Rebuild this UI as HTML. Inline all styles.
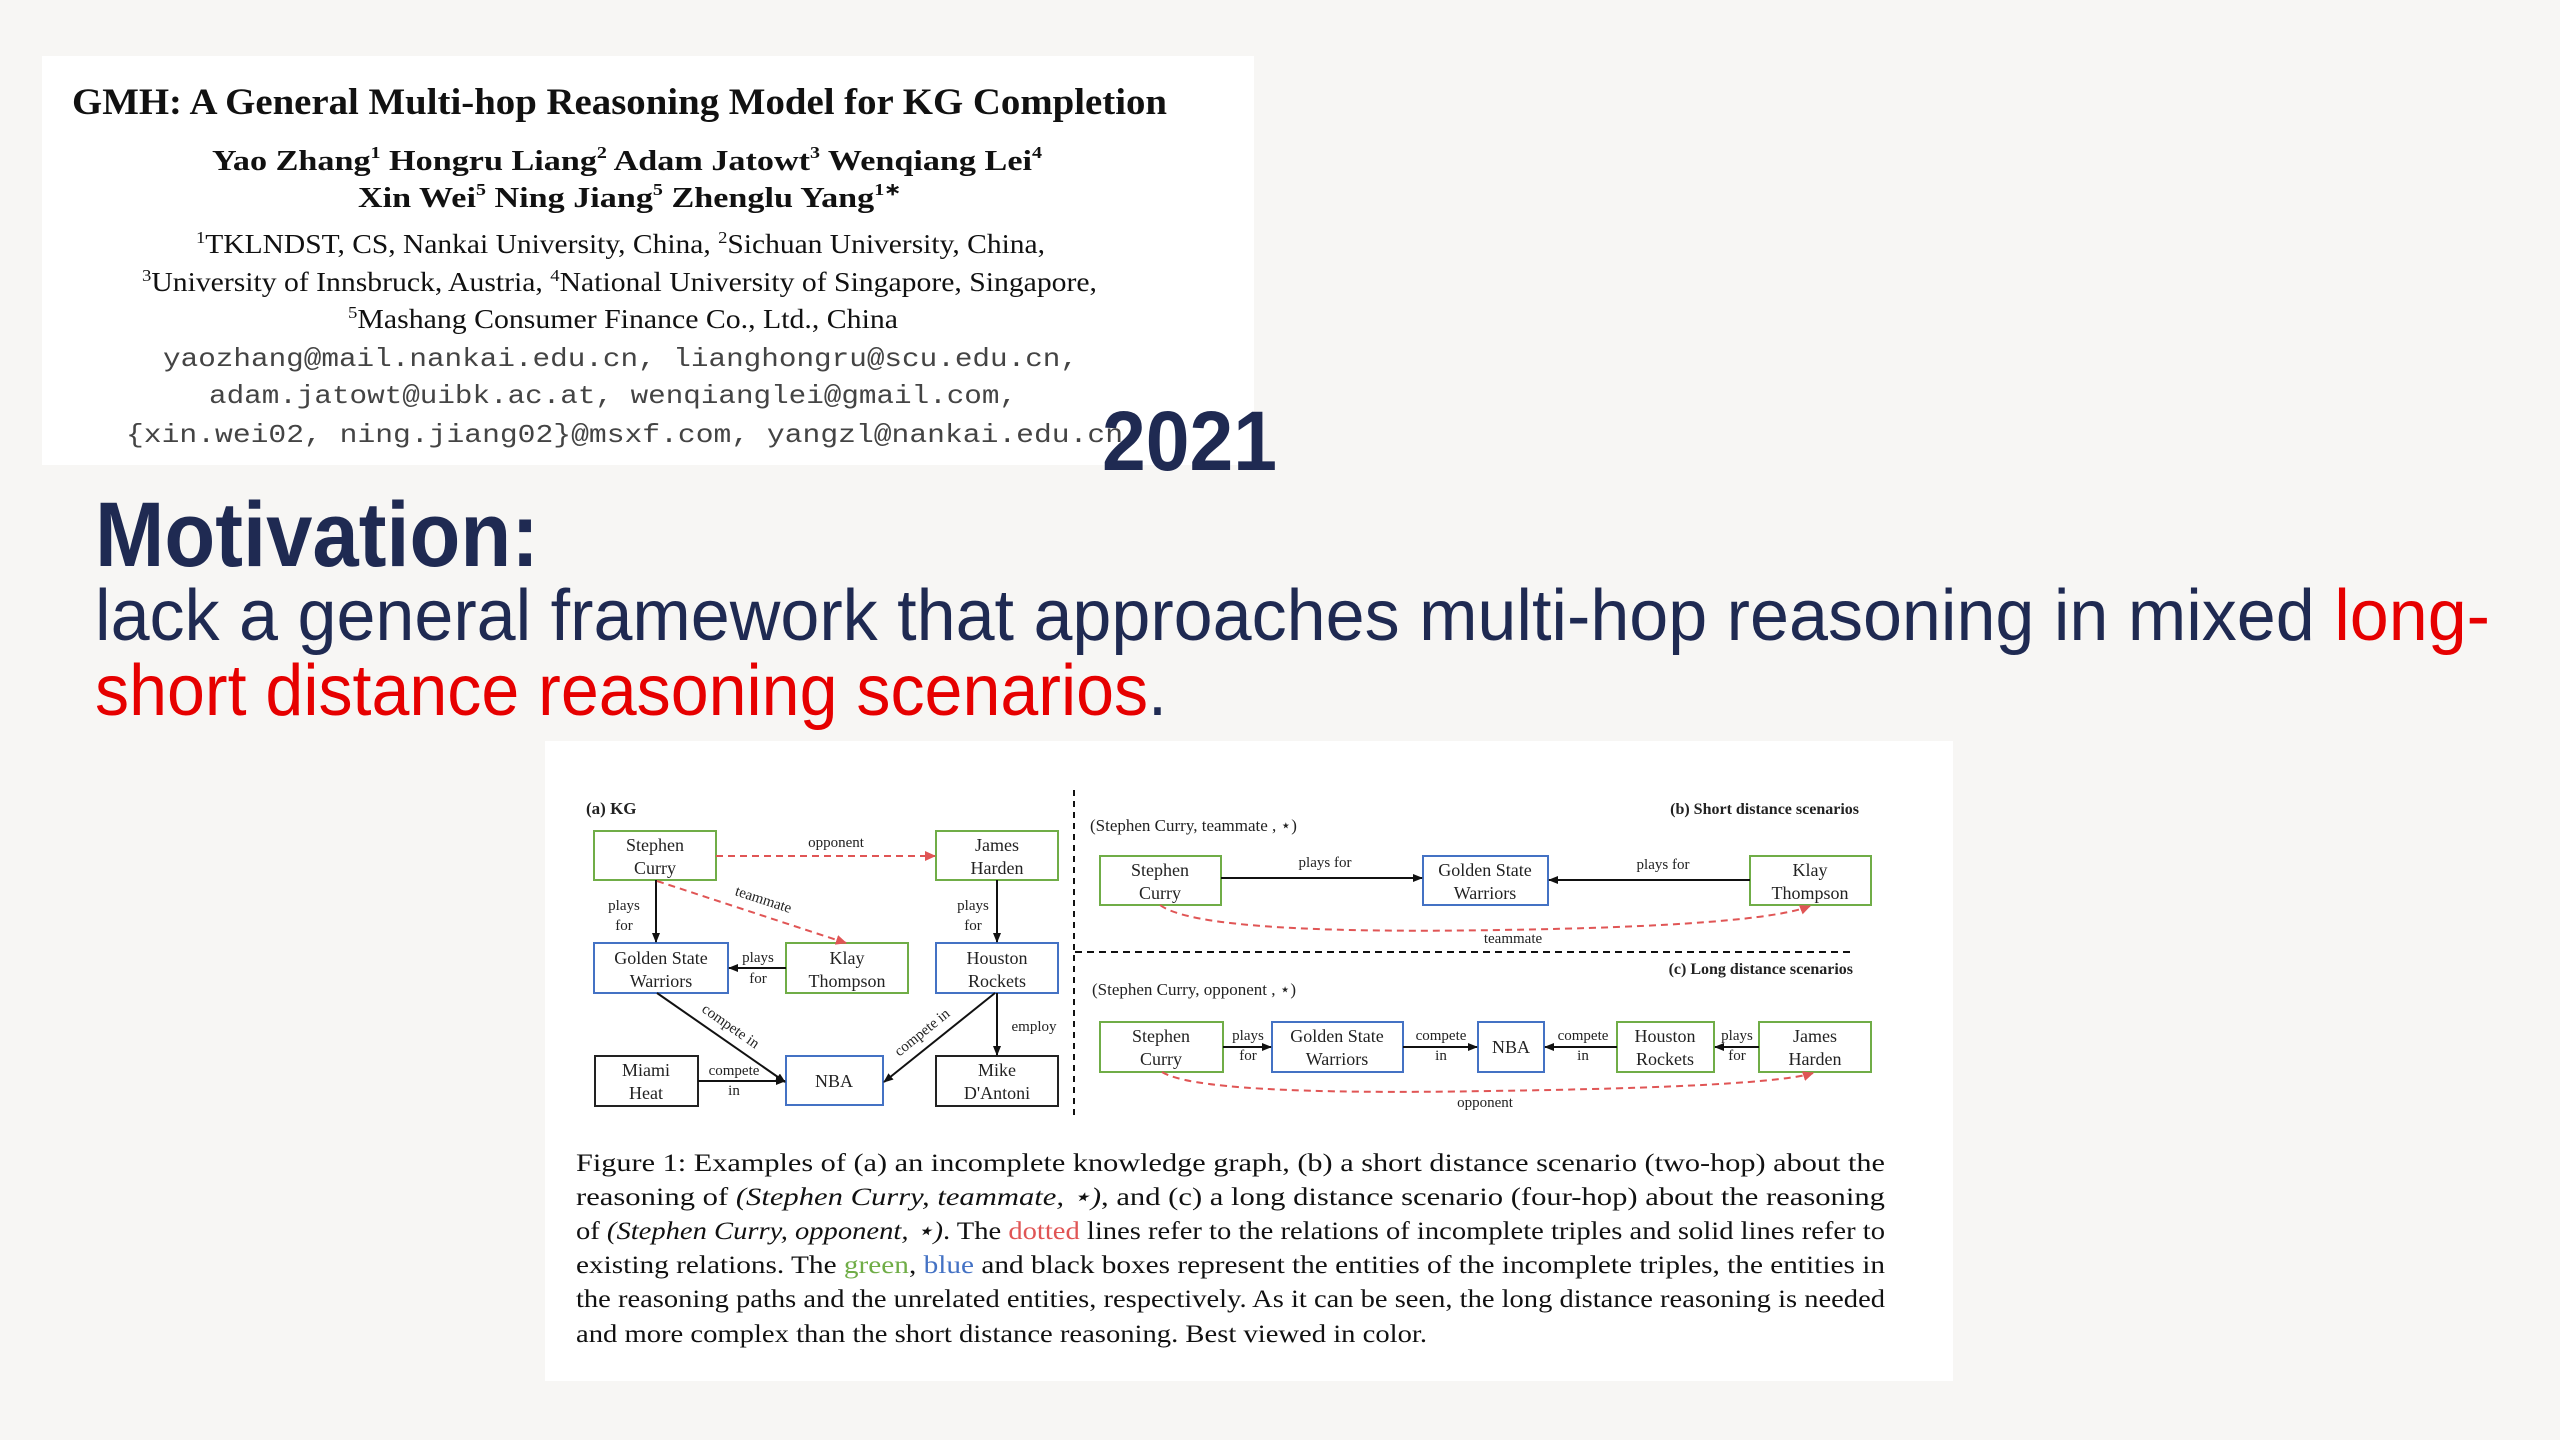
<!DOCTYPE html>
<html><head><meta charset="utf-8"><style>html,body{margin:0;padding:0;background:#f7f6f4}svg{display:block}</style></head>
<body>
<svg width="2560" height="1440" viewBox="0 0 2560 1440" xmlns="http://www.w3.org/2000/svg">
<defs>
<marker id="ab" markerWidth="10" markerHeight="10" refX="9" refY="5" orient="auto" markerUnits="userSpaceOnUse"><path d="M0,1 L10,5 L0,9 Z" fill="#111"/></marker>
<marker id="ar" markerWidth="12" markerHeight="12" refX="10" refY="6" orient="auto" markerUnits="userSpaceOnUse"><path d="M0,1 L11,6 L0,11 Z" fill="#e05555"/></marker>
</defs>
<rect width="2560" height="1440" fill="#f7f6f4"/>
<!-- header box -->
<rect x="42" y="56" width="1212" height="409" fill="#fff"/>
<g font-family="Liberation Serif, serif" fill="#111">
<text x="72" y="114" font-size="37" font-weight="bold" textLength="1095" lengthAdjust="spacingAndGlyphs">GMH: A General Multi-hop Reasoning Model for KG Completion</text>
<text x="212" y="170" font-size="29" font-weight="bold" textLength="830" lengthAdjust="spacingAndGlyphs">Yao Zhang<tspan font-size="17" dy="-12">1</tspan><tspan dy="12">   Hongru Liang</tspan><tspan font-size="17" dy="-12">2</tspan><tspan dy="12">  Adam Jatowt</tspan><tspan font-size="17" dy="-12">3</tspan><tspan dy="12">  Wenqiang Lei</tspan><tspan font-size="17" dy="-12">4</tspan></text>
<text x="358" y="207" font-size="29" font-weight="bold" textLength="543" lengthAdjust="spacingAndGlyphs">Xin Wei<tspan font-size="17" dy="-12">5</tspan><tspan dy="12">   Ning Jiang</tspan><tspan font-size="17" dy="-12">5</tspan><tspan dy="12">  Zhenglu Yang</tspan><tspan font-size="17" dy="-12">1∗</tspan></text>
<text x="196" y="253" font-size="27" textLength="849" lengthAdjust="spacingAndGlyphs"><tspan font-size="17" dy="-10">1</tspan><tspan dy="10">TKLNDST, CS, Nankai University, China, </tspan><tspan font-size="17" dy="-10">2</tspan><tspan dy="10">Sichuan University, China,</tspan></text>
<text x="142" y="291" font-size="27" textLength="955" lengthAdjust="spacingAndGlyphs"><tspan font-size="17" dy="-10">3</tspan><tspan dy="10">University of Innsbruck, Austria, </tspan><tspan font-size="17" dy="-10">4</tspan><tspan dy="10">National University of Singapore, Singapore,</tspan></text>
<text x="348" y="328" font-size="27" textLength="550" lengthAdjust="spacingAndGlyphs"><tspan font-size="17" dy="-10">5</tspan><tspan dy="10">Mashang Consumer Finance Co., Ltd., China</tspan></text>
</g>
<g font-family="Liberation Mono, monospace" fill="#444" font-size="26">
<text x="163" y="366" textLength="915" lengthAdjust="spacingAndGlyphs">yaozhang@mail.nankai.edu.cn, lianghongru@scu.edu.cn,</text>
<text x="209" y="403" textLength="808" lengthAdjust="spacingAndGlyphs">adam.jatowt@uibk.ac.at, wenqianglei@gmail.com,</text>
<text x="126" y="442" textLength="997" lengthAdjust="spacingAndGlyphs">{xin.wei02, ning.jiang02}@msxf.com, yangzl@nankai.edu.cn</text>
</g>
<text x="1102" y="470" font-family="Liberation Sans, sans-serif" font-weight="bold" font-size="84" fill="#1f2a52" textLength="175" lengthAdjust="spacingAndGlyphs">2021</text>
<g font-family="Liberation Sans, sans-serif">
<text x="95" y="566" font-size="92" font-weight="bold" fill="#1f2a52" textLength="444" lengthAdjust="spacingAndGlyphs">Motivation:</text>
<text x="95" y="640" font-size="72" fill="#1f2a52" textLength="2395" lengthAdjust="spacingAndGlyphs">lack a general framework that approaches multi-hop reasoning in mixed <tspan fill="#e60000">long-</tspan></text>
<text x="95" y="715" font-size="72" fill="#e60000" textLength="1072" lengthAdjust="spacingAndGlyphs">short distance reasoning scenarios<tspan fill="#1f2a52">.</tspan></text>
</g>
<!-- figure -->
<rect x="545" y="741" width="1408" height="640" fill="#fff"/>
<g font-family="Liberation Serif, serif" font-size="18" fill="#222" text-anchor="middle">
<text x="586" y="814" text-anchor="start" font-weight="bold" font-size="17">(a) KG</text>
<g fill="#fff" stroke-width="2">
<rect x="594" y="831" width="122" height="49" stroke="#70ad47"/>
<rect x="936" y="831" width="122" height="49" stroke="#70ad47"/>
<rect x="594" y="943" width="134" height="50" stroke="#4472c4"/>
<rect x="786" y="943" width="122" height="50" stroke="#70ad47"/>
<rect x="936" y="943" width="122" height="50" stroke="#4472c4"/>
<rect x="595" y="1056" width="103" height="50" stroke="#222"/>
<rect x="786" y="1056" width="97" height="49" stroke="#4472c4"/>
<rect x="936" y="1056" width="122" height="50" stroke="#222"/>
</g>
<text x="655" y="851">Stephen</text><text x="655" y="874">Curry</text>
<text x="997" y="851">James</text><text x="997" y="874">Harden</text>
<text x="661" y="964">Golden State</text><text x="661" y="987">Warriors</text>
<text x="847" y="964">Klay</text><text x="847" y="987">Thompson</text>
<text x="997" y="964">Houston</text><text x="997" y="987">Rockets</text>
<text x="646" y="1076">Miami</text><text x="646" y="1099">Heat</text>
<text x="834" y="1087">NBA</text>
<text x="997" y="1076">Mike</text><text x="997" y="1099">D'Antoni</text>
<g font-size="15">
<line x1="656" y1="880" x2="656" y2="942" stroke="#111" stroke-width="2" marker-end="url(#ab)"/>
<text x="624" y="910">plays</text><text x="624" y="930">for</text>
<line x1="997" y1="880" x2="997" y2="942" stroke="#111" stroke-width="2" marker-end="url(#ab)"/>
<text x="973" y="910">plays</text><text x="973" y="930">for</text>
<line x1="716" y1="856" x2="935" y2="856" stroke="#e05555" stroke-width="2" stroke-dasharray="7,5" marker-end="url(#ar)"/>
<text x="836" y="847">opponent</text>
<line x1="657" y1="881" x2="846" y2="943" stroke="#e05555" stroke-width="2" stroke-dasharray="7,5" marker-end="url(#ar)"/>
<text x="762" y="904" transform="rotate(18 762 904)">teammate</text>
<line x1="786" y1="968" x2="729" y2="968" stroke="#111" stroke-width="2" marker-end="url(#ab)"/>
<text x="758" y="962">plays</text><text x="758" y="983">for</text>
<line x1="657" y1="993" x2="785" y2="1082" stroke="#111" stroke-width="2" marker-end="url(#ab)"/>
<text x="728" y="1030" transform="rotate(35 728 1030)">compete in</text>
<line x1="995" y1="993" x2="884" y2="1082" stroke="#111" stroke-width="2" marker-end="url(#ab)"/>
<text x="925" y="1036" transform="rotate(-39 925 1036)">compete in</text>
<line x1="997" y1="993" x2="997" y2="1055" stroke="#111" stroke-width="2" marker-end="url(#ab)"/>
<text x="1034" y="1031">employ</text>
<line x1="698" y1="1081" x2="785" y2="1081" stroke="#111" stroke-width="2" marker-end="url(#ab)"/>
<text x="734" y="1075">compete</text><text x="734" y="1095">in</text>
</g>
<line x1="1074" y1="790" x2="1074" y2="1115" stroke="#111" stroke-width="2" stroke-dasharray="6,5"/>
<!-- (b) -->
<text x="1859" y="814" text-anchor="end" font-weight="bold" font-size="16">(b) Short distance scenarios</text>
<text x="1090" y="831" text-anchor="start" font-size="17">(Stephen Curry, teammate , ⋆)</text>
<g fill="#fff" stroke-width="2">
<rect x="1100" y="856" width="121" height="49" stroke="#70ad47"/>
<rect x="1423" y="856" width="125" height="49" stroke="#4472c4"/>
<rect x="1750" y="856" width="121" height="49" stroke="#70ad47"/>
</g>
<text x="1160" y="876">Stephen</text><text x="1160" y="899">Curry</text>
<text x="1485" y="876">Golden State</text><text x="1485" y="899">Warriors</text>
<text x="1810" y="876">Klay</text><text x="1810" y="899">Thompson</text>
<g font-size="15">
<line x1="1221" y1="878" x2="1422" y2="878" stroke="#111" stroke-width="2" marker-end="url(#ab)"/>
<text x="1325" y="867">plays for</text>
<line x1="1750" y1="880" x2="1549" y2="880" stroke="#111" stroke-width="2" marker-end="url(#ab)"/>
<text x="1663" y="869">plays for</text>
<path d="M1160,905 Q1200,935 1500,930 Q1760,926 1810,906" fill="none" stroke="#e05555" stroke-width="2" stroke-dasharray="7,5" marker-end="url(#ar)"/>
<text x="1513" y="943">teammate</text>
</g>
<line x1="1075" y1="952" x2="1852" y2="952" stroke="#111" stroke-width="2" stroke-dasharray="7,5"/>
<!-- (c) -->
<text x="1853" y="974" text-anchor="end" font-weight="bold" font-size="16">(c) Long distance scenarios</text>
<text x="1092" y="995" text-anchor="start" font-size="17">(Stephen Curry, opponent , ⋆)</text>
<g fill="#fff" stroke-width="2">
<rect x="1100" y="1022" width="123" height="50" stroke="#70ad47"/>
<rect x="1272" y="1022" width="131" height="50" stroke="#4472c4"/>
<rect x="1478" y="1022" width="66" height="50" stroke="#4472c4"/>
<rect x="1617" y="1022" width="97" height="50" stroke="#70ad47"/>
<rect x="1759" y="1022" width="112" height="50" stroke="#70ad47"/>
</g>
<text x="1161" y="1042">Stephen</text><text x="1161" y="1065">Curry</text>
<text x="1337" y="1042">Golden State</text><text x="1337" y="1065">Warriors</text>
<text x="1511" y="1053">NBA</text>
<text x="1665" y="1042">Houston</text><text x="1665" y="1065">Rockets</text>
<text x="1815" y="1042">James</text><text x="1815" y="1065">Harden</text>
<g font-size="15">
<line x1="1223" y1="1047" x2="1271" y2="1047" stroke="#111" stroke-width="2" marker-end="url(#ab)"/>
<text x="1248" y="1040">plays</text><text x="1248" y="1060">for</text>
<line x1="1403" y1="1047" x2="1477" y2="1047" stroke="#111" stroke-width="2" marker-end="url(#ab)"/>
<text x="1441" y="1040">compete</text><text x="1441" y="1060">in</text>
<line x1="1617" y1="1047" x2="1545" y2="1047" stroke="#111" stroke-width="2" marker-end="url(#ab)"/>
<text x="1583" y="1040">compete</text><text x="1583" y="1060">in</text>
<line x1="1759" y1="1047" x2="1715" y2="1047" stroke="#111" stroke-width="2" marker-end="url(#ab)"/>
<text x="1737" y="1040">plays</text><text x="1737" y="1060">for</text>
<path d="M1162,1072 Q1200,1096 1490,1091 Q1770,1087 1813,1073" fill="none" stroke="#e05555" stroke-width="2" stroke-dasharray="7,5" marker-end="url(#ar)"/>
<text x="1485" y="1107">opponent</text>
</g>
</g>
<!-- caption -->
<g font-family="Liberation Serif, serif" font-size="25" fill="#111">
<text x="576" y="1171" textLength="1309" lengthAdjust="spacingAndGlyphs">Figure 1:  Examples of (a) an incomplete knowledge graph, (b) a short distance scenario (two-hop) about the</text>
<text x="576" y="1205" textLength="1309" lengthAdjust="spacingAndGlyphs">reasoning of <tspan font-style="italic">(Stephen Curry, teammate, ⋆)</tspan>, and (c) a long distance scenario (four-hop) about the reasoning</text>
<text x="576" y="1239" textLength="1309" lengthAdjust="spacingAndGlyphs">of <tspan font-style="italic">(Stephen Curry, opponent, ⋆)</tspan>. The <tspan fill="#e05555">dotted</tspan> lines refer to the relations of incomplete triples and solid lines refer to</text>
<text x="576" y="1273" textLength="1309" lengthAdjust="spacingAndGlyphs">existing relations.  The <tspan fill="#70ad47">green</tspan>, <tspan fill="#4472c4">blue</tspan> and black boxes represent the entities of the incomplete triples, the entities in</text>
<text x="576" y="1307" textLength="1309" lengthAdjust="spacingAndGlyphs">the reasoning paths and the unrelated entities, respectively. As it can be seen, the long distance reasoning is needed</text>
<text x="576" y="1342" textLength="851" lengthAdjust="spacingAndGlyphs">and more complex than the short distance reasoning. Best viewed in color.</text>
</g>
</svg>
</body></html>
